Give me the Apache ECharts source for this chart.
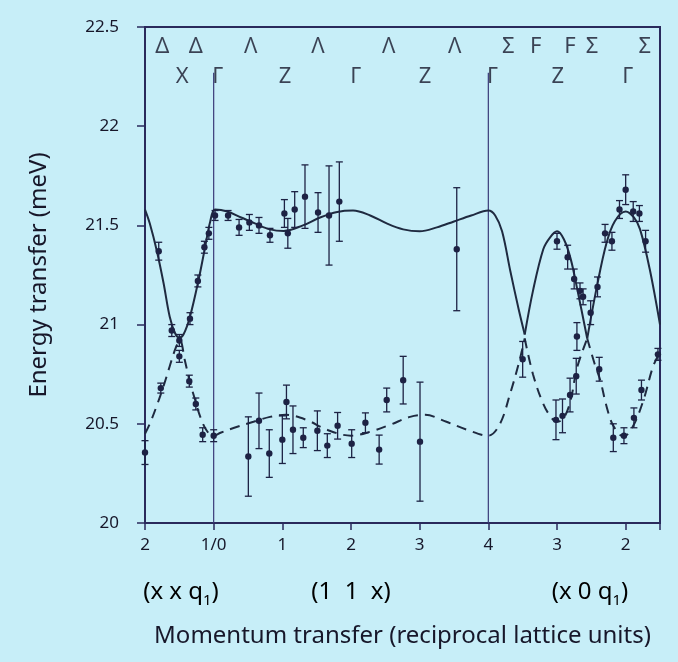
<!DOCTYPE html>
<html>
<head>
<meta charset="utf-8">
<script src="https://cdn.jsdelivr.net/npm/echarts@6/dist/echarts.min.js"></script>
<style>
html,body{margin:0;padding:0;background:#c7eef8;}
#c{width:678px;height:662px;}
</style>
</head>
<body>
<div id="c"></div>
<script>
// ---- tick labels ----
const xTickLabels = ['2', '1/0', '1', '2', '3', '4', '3', '2'];
const yTickLabels = ['20', '20.5', '21', '21.5', '22', '22.5'];

// ---- symmetry-point labels along the top ----
const topRowLetters = ['Δ', 'Δ', 'Λ', 'Λ', 'Λ', 'Λ', 'Σ', 'F', 'F', 'Σ', 'Σ'];
const topRowX = [0.25, 0.74, 1.54, 2.52, 3.55, 4.51, 5.29, 5.69, 6.19, 6.51, 7.28];
const pointLetters = ['X', 'Γ', 'Z', 'Γ', 'Z', 'Γ', 'Z', 'Γ'];
const pointX = [0.54, 1.06, 2.04, 3.07, 4.08, 5.06, 6.01, 7.03];

// ---- zone boundary lines ----
const boundaryX = [1, 5];

// ---- model curves (upper: solid, lower: dashed), split at the touching points ----
const upperCurveA = [[0,21.58],[0.07,21.51],[0.17,21.375],[0.27,21.21],[0.36,21.04],[0.44,20.955],[0.5,20.935],[0.56,20.95],[0.655,21.04],[0.78,21.225],[0.875,21.39],[0.95,21.52],[1.02,21.58],[1.2,21.57],[1.4,21.54],[1.6,21.51],[1.82,21.48],[2.02,21.472],[2.3,21.5],[2.55,21.54],[2.8,21.568],[3.03,21.575],[3.28,21.55],[3.52,21.51],[3.76,21.48],[4.0,21.47],[4.25,21.49],[4.5,21.52],[4.75,21.55],[5.0,21.575],[5.1,21.55],[5.2,21.47],[5.32,21.27],[5.44,21.08],[5.53,20.95]];
const upperCurveB = [[5.53,20.95],[5.65,21.17],[5.8,21.38],[5.9,21.44],[6.0,21.47],[6.1,21.43],[6.2,21.33],[6.3,21.17],[6.44,20.93]];
const upperCurveC = [[6.44,20.93],[6.58,21.19],[6.72,21.41],[6.84,21.52],[7.0,21.57],[7.12,21.54],[7.21,21.48],[7.35,21.28],[7.5,21.0]];
const lowerCurveA = [[0,20.45],[0.07,20.5],[0.17,20.59],[0.27,20.69],[0.36,20.79],[0.45,20.885],[0.51,20.92],[0.58,20.82],[0.655,20.71],[0.73,20.62],[0.8,20.54],[0.9,20.465],[1.0,20.44],[1.1,20.455],[1.3,20.48],[1.58,20.51],[1.82,20.535],[2.05,20.545],[2.35,20.52],[2.65,20.47],[3.0,20.44],[3.28,20.46],[3.57,20.495],[3.86,20.535],[4.08,20.545],[4.39,20.51],[4.69,20.47],[5.0,20.44],[5.17,20.5],[5.32,20.655],[5.44,20.8],[5.53,20.93]];
const lowerCurveB = [[5.53,20.93],[5.65,20.75],[5.8,20.6],[5.92,20.53],[6.0,20.51],[6.1,20.53],[6.2,20.62],[6.29,20.78],[6.44,20.93]];
const lowerCurveC = [[6.44,20.93],[6.55,20.8],[6.63,20.72],[6.72,20.59],[6.82,20.49],[6.97,20.435],[7.11,20.49],[7.26,20.62],[7.4,20.79],[7.5,20.86]];

// ---- measured points: [x, energy, error] ----
const upperPoints = [[0.2,21.37,0.045],[0.39,20.97,0.03],[0.5,20.92,0.03],[0.655,21.03,0.03],[0.77,21.22,0.03],[0.865,21.39,0.03],[0.93,21.46,0.03],[1.02,21.55,0.025],[1.21,21.55,0.025],[1.37,21.49,0.04],[1.52,21.515,0.04],[1.66,21.5,0.04],[1.82,21.45,0.035],[2.03,21.56,0.07],[2.08,21.46,0.075],[2.18,21.58,0.09],[2.33,21.645,0.16],[2.52,21.565,0.1],[2.68,21.55,0.25],[2.83,21.62,0.2],[4.54,21.38,0.31],[6.0,21.42,0.04],[6.155,21.34,0.06],[6.25,21.23,0.05],[6.335,21.17,0.04],[6.38,21.14,0.04],[6.49,21.06,0.06],[6.59,21.19,0.05],[6.7,21.46,0.045],[6.8,21.42,0.045],[6.91,21.58,0.045],[7.0,21.68,0.075],[7.11,21.57,0.05],[7.2,21.56,0.04],[7.29,21.42,0.055],[6.29,20.94,0.07]];
const lowerPoints = [[0,20.355,0.06],[0.23,20.68,0.025],[0.5,20.84,0.03],[0.645,20.715,0.03],[0.74,20.6,0.03],[0.84,20.445,0.035],[1.0,20.44,0.03],[1.505,20.335,0.2],[1.66,20.515,0.14],[1.81,20.35,0.12],[2.0,20.42,0.12],[2.06,20.61,0.085],[2.155,20.47,0.12],[2.305,20.43,0.05],[2.51,20.465,0.1],[2.655,20.39,0.06],[2.805,20.49,0.067],[3.01,20.40,0.07],[3.21,20.505,0.05],[3.41,20.37,0.073],[3.52,20.62,0.06],[3.76,20.72,0.12],[4.005,20.41,0.3],[5.5,20.825,0.09],[5.985,20.52,0.1],[6.08,20.54,0.085],[6.19,20.645,0.085],[6.28,20.74,0.09],[6.615,20.775,0.06],[6.82,20.43,0.07],[6.975,20.44,0.04],[7.12,20.53,0.05],[7.23,20.67,0.05],[7.47,20.85,0.03]];

const INK = '#1d2244';
const CURVE = '#1f2a40';
const TEXT = '#17172a';
const FONT = '"Noto Sans", "DejaVu Sans", sans-serif';

function curveSeries(data, dashed) {
  return {
    type: 'line', data: data, smooth: 0.35, symbol: 'none', silent: true,
    lineStyle: { color: CURVE, width: 2, type: dashed ? [10, 7] : 'solid' },
    z: 3
  };
}

function errorSeries(data) {
  return {
    type: 'custom', data: data, z: 5, silent: true,
    renderItem: function (params, api) {
      const x = api.value(0), y = api.value(1), e = api.value(2);
      const c = api.coord([x, y]);
      const t = api.coord([x, y + e]);
      const b = api.coord([x, y - e]);
      const cap = 3.5;
      const st = { stroke: INK, lineWidth: 1.3 };
      return {
        type: 'group',
        children: [
          { type: 'line', shape: { x1: t[0], y1: t[1], x2: b[0], y2: b[1] }, style: st },
          { type: 'line', shape: { x1: t[0] - cap, y1: t[1], x2: t[0] + cap, y2: t[1] }, style: st },
          { type: 'line', shape: { x1: b[0] - cap, y1: b[1], x2: b[0] + cap, y2: b[1] }, style: st },
          { type: 'circle', shape: { cx: c[0], cy: c[1], r: 3.2 }, style: { fill: INK } }
        ]
      };
    }
  };
}

function letterSeries(letters, xs, yRow, size) {
  return {
    type: 'scatter', symbolSize: 0, silent: true, z: 6,
    data: letters.map((l, i) => ({ value: [xs[i], yRow], name: l })),
    label: {
      show: true, position: 'inside', formatter: p => p.name,
      fontSize: size, color: TEXT, fontFamily: FONT
    }
  };
}

const richSub = {
  a: { fontSize: 24, fontFamily: FONT, color: TEXT, lineHeight: 32, verticalAlign: 'middle' },
  s: { fontSize: 15, fontFamily: FONT, color: TEXT, lineHeight: 32, verticalAlign: 'bottom' }
};

const chart = echarts.init(document.getElementById('c'), null, { renderer: 'canvas' });
chart.setOption({
  backgroundColor: '#c7eef8',
  animation: false,
  textStyle: { fontFamily: FONT },
  grid: { left: 145, right: 18, top: 27, bottom: 139, show: true, borderColor: '#2a2a5c', borderWidth: 2, backgroundColor: 'transparent' },
  xAxis: {
    type: 'value', min: 0, max: 7.5, interval: 1,
    name: 'Momentum transfer (reciprocal lattice units)', nameLocation: 'middle', nameGap: 101,
    nameTextStyle: { fontSize: 24, color: TEXT, fontFamily: FONT },
    axisLine: { show: true, lineStyle: { color: '#2a2a5c', width: 2 } },
    axisTick: { show: true, inside: false, length: 7, lineStyle: { color: '#2a2a5c', width: 1.5 } },
    axisLabel: { margin: 14, fontSize: 17, color: TEXT, fontFamily: FONT,
      formatter: v => (Number.isInteger(v) && xTickLabels[v] !== undefined) ? xTickLabels[v] : '' },
    splitLine: { show: false }
  },
  yAxis: {
    type: 'value', min: 20, max: 22.5, interval: 0.5,
    name: 'Energy transfer (meV)', nameLocation: 'middle', nameGap: 94, nameRotate: 90,
    nameTextStyle: { fontSize: 24, color: TEXT, fontFamily: FONT },
    axisLine: { show: true, lineStyle: { color: '#2a2a5c', width: 2 } },
    axisTick: { show: true, inside: false, length: 8, lineStyle: { color: '#2a2a5c', width: 1.5 } },
    axisLabel: { margin: 26, fontSize: 17, color: TEXT, fontFamily: FONT,
      formatter: v => yTickLabels[Math.round((v - 20) / 0.5)] },
    splitLine: { show: false }
  },
  graphic: [
    { type: 'text', x: 181, y: 592, style: { text: '{a|(x x q}{s|1}{a|)}', rich: richSub, align: 'center', verticalAlign: 'middle' } },
    { type: 'text', x: 351, y: 592, style: { text: '{a|(1  1  x)}', rich: richSub, align: 'center', verticalAlign: 'middle' } },
    { type: 'text', x: 590, y: 592, style: { text: '{a|(x 0 q}{s|1}{a|)}', rich: richSub, align: 'center', verticalAlign: 'middle' } }
  ],
  series: [
    ...boundaryX.map(bx => ({
      type: 'line', data: [[bx, 20], [bx, 22.27]], symbol: 'none', silent: true, z: 2,
      lineStyle: { color: '#3a3a78', width: 1.2 }
    })),
    curveSeries(upperCurveA, false), curveSeries(upperCurveB, false), curveSeries(upperCurveC, false),
    curveSeries(lowerCurveA, true), curveSeries(lowerCurveB, true), curveSeries(lowerCurveC, true),
    errorSeries(upperPoints), errorSeries(lowerPoints),
    letterSeries(topRowLetters, topRowX, 22.4, 22),
    letterSeries(pointLetters, pointX, 22.25, 22)
  ]
});
</script>
</body>
</html>
